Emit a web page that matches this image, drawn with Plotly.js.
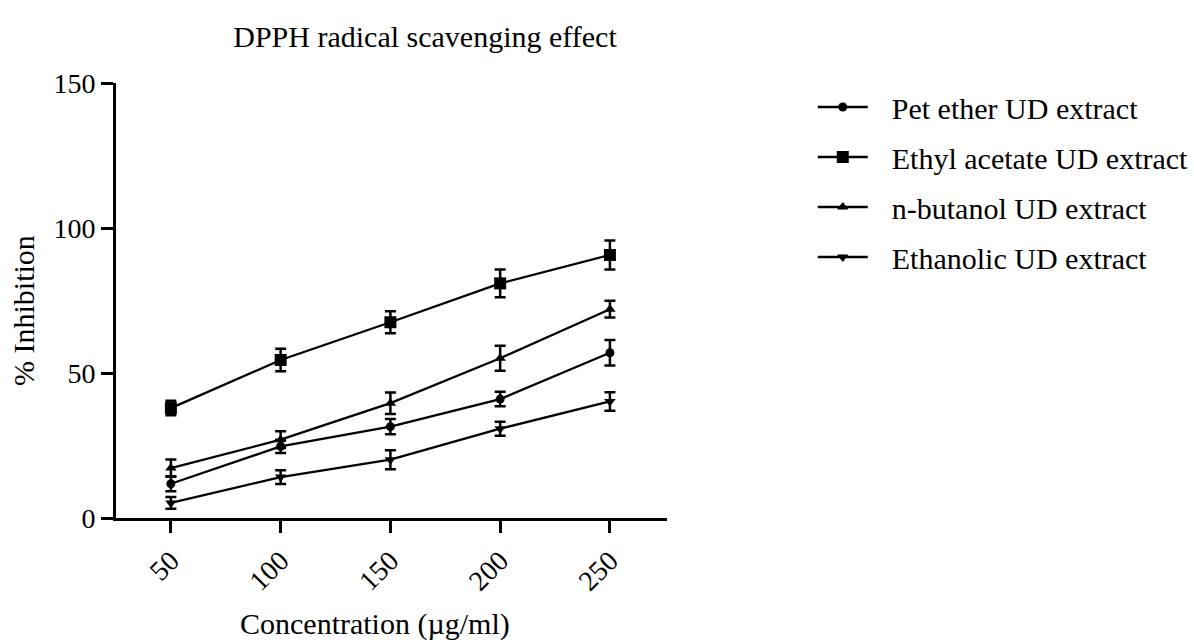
<!DOCTYPE html>
<html>
<head>
<meta charset="utf-8">
<script src="https://cdn.plot.ly/plotly-3.0.1.min.js"></script>
<style>html,body{margin:0;padding:0;background:#fff;}#chart{width:1194px;height:642px;}</style>
</head>
<body>
<div id="chart"></div>
<script>
const concentrations = [50, 100, 150, 200, 250];
const tickLabels = ["50", "100", "150", "200", "250"];
const seriesNames = ["Pet ether UD extract", "Ethyl acetate UD extract", "n-butanol UD extract", "Ethanolic UD extract"];
const petEther = [11.8, 24.7, 31.5, 41.0, 57.0];
const petEtherErr = [2.6, 2.3, 2.6, 2.5, 4.4];
const ethylAcetate = [37.9, 54.5, 67.5, 80.9, 90.7];
const ethylAcetateErr = [2.5, 3.9, 3.8, 4.8, 5.0];
const nButanol = [17.2, 27.0, 39.6, 55.1, 72.0];
const nButanolErr = [3.0, 2.9, 3.7, 4.3, 2.9];
const ethanolic = [5.2, 14.1, 20.1, 30.8, 40.2];
const ethanolicErr = [2.0, 2.4, 3.3, 2.4, 3.2];

const FONT = "Liberation Serif, Times New Roman, serif";
const values = [petEther, ethylAcetate, nButanol, ethanolic];
const errs = [petEtherErr, ethylAcetateErr, nButanolErr, ethanolicErr];
const symbols = ["circle", "square", "triangle-up", "triangle-down"];
const sizes = [9, 12, 10, 10];

const traces = values.map((v, i) => ({
  type: "scatter",
  mode: "lines+markers",
  name: seriesNames[i],
  legendgroup: "g" + i,
  x: concentrations,
  y: v,
  line: {color: "#000", width: 2.3},
  marker: {symbol: symbols[i], size: sizes[i], color: "#000"},
  error_y: {type: "data", array: errs[i], visible: true, color: "#000", thickness: 2.5, width: 5.5}
}));

const layout = {
  width: 1194, height: 642,
  paper_bgcolor: "#fff", plot_bgcolor: "#fff",
  margin: {l: 116, r: 527, t: 83, b: 124},
  font: {family: FONT, color: "#000", size: 28},
  title: {text: "DPPH radical scavenging effect", font: {family: FONT, size: 30, color: "#000"}, x: 425/1194, xanchor: "center", y: 1 - 36/642, yanchor: "middle"},
  xaxis: {
    range: [25, 276], showgrid: false, zeroline: false,
    showline: true, linecolor: "#000", linewidth: 3,
    ticks: "outside", ticklen: 12, tickwidth: 3, tickcolor: "#000",
    tickvals: concentrations, ticktext: tickLabels, tickangle: -45,
    tickfont: {family: FONT, size: 28}
  },
  yaxis: {
    range: [0, 150], showgrid: false, zeroline: false,
    showline: true, linecolor: "#000", linewidth: 3,
    ticks: "outside", ticklen: 12, tickwidth: 3, tickcolor: "#000",
    tickvals: [0, 50, 100, 150], ticktext: ["0", "50", "100", "150"],
    tickfont: {family: FONT, size: 28}
  },
  annotations: [
    {text: "Concentration (\u00b5g/ml)", xref: "paper", yref: "paper", x: (375 - 116) / 551, y: -(624 - 518) / 435,
     xanchor: "center", yanchor: "middle", showarrow: false, font: {family: FONT, size: 30, color: "#000"}},
    {text: "% Inhibition", xref: "paper", yref: "paper", x: -(116 - 23) / 551, y: (518 - 311) / 435,
     xanchor: "center", yanchor: "middle", textangle: -90, showarrow: false, font: {family: FONT, size: 30, color: "#000"}}
  ],
  showlegend: true,
  legend: {
    x: 1.27 - 3/551, xanchor: "left", y: 1 + 2/435, yanchor: "top",
    font: {family: FONT, size: 30, color: "#000"},
    tracegroupgap: 8, traceorder: "grouped", itemwidth: 50,
    bgcolor: "rgba(0,0,0,0)"
  }
};

Plotly.newPlot("chart", traces, layout, {displayModeBar: false, staticPlot: true}).then(() => {
  document.querySelectorAll(".legend .scrollbox, .legend [clip-path]").forEach(el => el.removeAttribute("clip-path"));
  document.querySelectorAll(".legendtext").forEach(t => {
    const x = parseFloat(t.getAttribute("x") || "0");
    t.setAttribute("x", x + 19);
  });
});
</script>
</body>
</html>
